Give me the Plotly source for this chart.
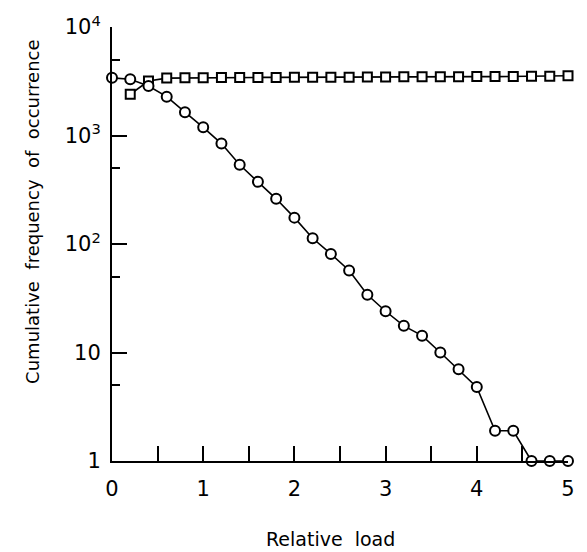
import plotly.graph_objects as go

# Data
load_circles = [0.0, 0.2, 0.4, 0.6, 0.8, 1.0, 1.2, 1.4, 1.6, 1.8, 2.0, 2.2, 2.4,
                2.6, 2.8, 3.0, 3.2, 3.4, 3.6, 3.8, 4.0, 4.2, 4.4, 4.6, 4.8, 5.0]
freq_circles = [3400, 3300, 2860, 2280, 1640, 1190, 843, 537, 374, 261, 175, 113, 81,
                57, 34, 24, 17.6, 14.3, 10, 7.0, 4.8, 1.9, 1.9, 1, 1, 1]

load_squares = [0.2, 0.4, 0.6, 0.8, 1.0, 1.2, 1.4, 1.6, 1.8, 2.0, 2.2, 2.4, 2.6,
                2.8, 3.0, 3.2, 3.4, 3.6, 3.8, 4.0, 4.2, 4.4, 4.6, 4.8, 5.0]
freq_squares = [2400, 3180, 3380, 3400, 3400, 3420, 3420, 3430, 3430, 3440, 3440, 3450, 3450,
                3460, 3460, 3470, 3470, 3480, 3480, 3490, 3490, 3500, 3510, 3520, 3550]

x_tickvals = [0, 1, 2, 3, 4, 5]
x_ticktext = ["0", "1", "2", "3", "4", "5"]
x_minorvals = [0.5, 1.5, 2.5, 3.5, 4.5]
y_tickvals = [1, 10, 100, 1000, 10000]
y_ticktext = ["1", "10", "10<sup>2</sup>", "10<sup>3</sup>", "10<sup>4</sup>"]
y_minorvals = [5, 50, 500, 5000]

FONT = "DejaVu Sans"

fig = go.Figure()
fig.add_trace(go.Scatter(
    x=load_squares, y=freq_squares, mode="lines+markers",
    line=dict(color="black", width=1.6),
    marker=dict(symbol="square", size=9, color="white", line=dict(color="black", width=2)),
    cliponaxis=False, showlegend=False))
fig.add_trace(go.Scatter(
    x=load_circles, y=freq_circles, mode="lines+markers",
    line=dict(color="black", width=1.6),
    marker=dict(symbol="circle", size=10, color="white", line=dict(color="black", width=2)),
    cliponaxis=False, showlegend=False))

fig.update_layout(
    width=587, height=552,
    margin=dict(l=112, r=17, t=19, b=91),
    paper_bgcolor="white", plot_bgcolor="white",
    font=dict(family=FONT, color="black"),
    xaxis=dict(
        range=[0, 5], showgrid=False, zeroline=False,
        showline=True, linecolor="black", linewidth=2,
        ticks="inside", ticklen=15, tickwidth=2, tickcolor="black",
        tickmode="array", tickvals=x_tickvals, ticktext=x_ticktext,
        tickfont=dict(size=21, family=FONT), ticklabelstandoff=8,
        ticklabeloverflow="allow",
        minor=dict(tickmode="array", tickvals=x_minorvals, ticks="inside",
                   ticklen=15, tickwidth=2, tickcolor="black", showgrid=False),
    ),
    yaxis=dict(
        type="log", range=[0, 4], showgrid=False, zeroline=False,
        showline=True, linecolor="black", linewidth=2,
        ticks="inside", ticklen=15, tickwidth=2, tickcolor="black",
        tickmode="array", tickvals=y_tickvals, ticktext=y_ticktext,
        tickfont=dict(size=21, family=FONT), ticklabelstandoff=5,
        ticklabeloverflow="allow",
        minor=dict(tickmode="array", tickvals=y_minorvals, ticks="inside",
                   ticklen=8, tickwidth=2, tickcolor="black", showgrid=False),
    ),
    annotations=[
        dict(text="Relative\u00a0\u00a0load", xref="paper", yref="paper",
             x=0.48, y=-0.179, xanchor="center", yanchor="middle",
             showarrow=False, font=dict(size=19, family=FONT)),
        dict(text="Cumulative\u00a0\u00a0frequency\u00a0\u00a0of\u00a0\u00a0occurrence",
             xref="paper", yref="paper", x=-0.1745, y=0.575,
             xanchor="center", yanchor="middle", textangle=-90,
             showarrow=False, font=dict(size=18, family=FONT)),
    ],
)

fig.write_html("out.html", config={"displayModeBar": False},
               post_script="document.body.style.margin='0';document.body.style.overflow='hidden';")
